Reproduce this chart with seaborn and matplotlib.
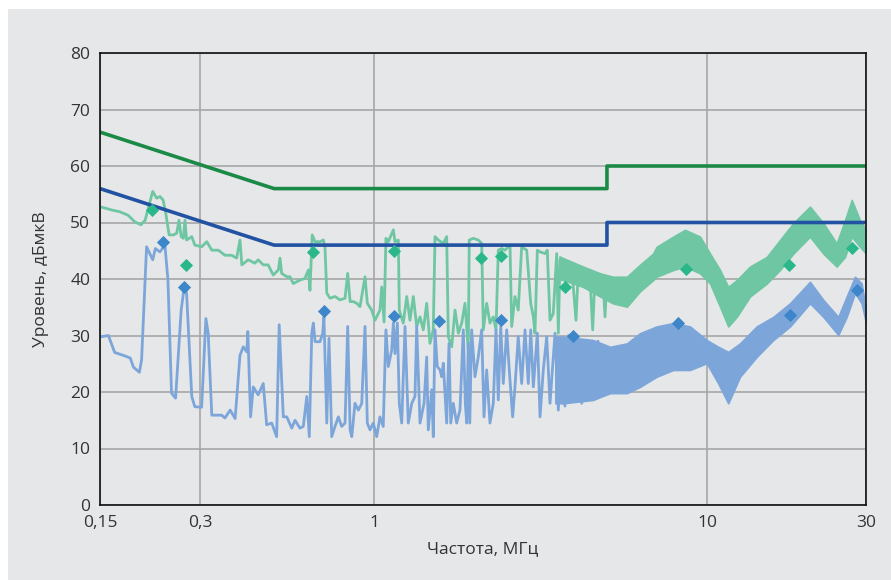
import numpy as np
import pandas as pd
import matplotlib
matplotlib.use("Agg")
import matplotlib.pyplot as plt
import seaborn as sns
from matplotlib.patches import Rectangle
from matplotlib.ticker import FixedLocator, FixedFormatter, LogLocator, NullFormatter

# ---------------- data ----------------
LIMIT_F = [0.15, 0.5, 5.0, 5.0, 30.0]
LIMIT_QP = [66, 56, 56, 60, 60]
LIMIT_AV = [56, 46, 46, 50, 50]

GREEN_TRACE = [
    (0.150, 52.8), (0.163, 52.2), (0.172, 51.9), (0.182, 51.3), (0.191, 50.1), (0.199, 49.6),
    (0.205, 50.4), (0.210, 52.8), (0.216, 55.5), (0.222, 54.3), (0.227, 54.6), (0.232, 54.0),
    (0.236, 51.9), (0.242, 47.8), (0.249, 47.8), (0.255, 48.1), (0.259, 50.4), (0.263, 47.5),
    (0.267, 47.2), (0.270, 50.4), (0.273, 46.9), (0.283, 47.5), (0.289, 46.0), (0.303, 45.7),
    (0.314, 46.6), (0.325, 45.1), (0.340, 45.1), (0.356, 44.2), (0.373, 44.2), (0.386, 43.7),
    (0.395, 46.9), (0.400, 42.5), (0.418, 43.4), (0.438, 42.8), (0.448, 43.4), (0.464, 42.5),
    (0.480, 42.5), (0.497, 40.7), (0.515, 41.6), (0.521, 43.7), (0.527, 41.0), (0.546, 40.4),
    (0.558, 40.4), (0.571, 39.2), (0.598, 39.8), (0.619, 40.1), (0.634, 41.6), (0.641, 38.0),
    (0.651, 47.8), (0.664, 46.6), (0.687, 46.6), (0.703, 46.9), (0.711, 45.7), (0.720, 37.5),
    (0.736, 36.6), (0.762, 36.9), (0.789, 36.3), (0.817, 36.6), (0.832, 41.0), (0.846, 36.0),
    (0.865, 36.0), (0.886, 35.7), (0.906, 35.1), (0.938, 40.4), (0.953, 35.7), (0.982, 34.5),
    (1.005, 32.7), (1.040, 34.5), (1.053, 38.6), (1.070, 32.4), (1.084, 47.2), (1.102, 46.6),
    (1.141, 48.7), (1.154, 46.6), (1.181, 46.9), (1.189, 34.5), (1.222, 32.2), (1.252, 36.9),
    (1.280, 32.7), (1.310, 36.9), (1.341, 31.6), (1.372, 33.3), (1.404, 31.0), (1.437, 35.7),
    (1.470, 28.6), (1.504, 31.0), (1.522, 47.5), (1.557, 46.9), (1.612, 46.3), (1.650, 47.5),
    (1.669, 29.8), (1.708, 28.0), (1.748, 34.5), (1.789, 30.4), (1.831, 32.2), (1.873, 35.7),
    (1.916, 27.4), (1.929, 46.9), (1.983, 47.2), (2.053, 46.9), (2.102, 46.3), (2.126, 31.0),
    (2.176, 35.7), (2.226, 32.2), (2.278, 33.3), (2.321, 31.0), (2.358, 45.1), (2.414, 45.4),
    (2.470, 45.1), (2.557, 46.0), (2.587, 31.6), (2.646, 36.9), (2.707, 34.5), (2.772, 45.7),
    (2.870, 45.1), (2.951, 35.7), (3.005, 33.3), (3.039, 30.4), (3.089, 45.1), (3.147, 44.8),
    (3.257, 44.5), (3.309, 45.1), (3.372, 32.7), (3.449, 33.9), (3.532, 44.5), (3.572, 30.4),
    (3.614, 43.4), (3.697, 42.8), (3.784, 42.2), (3.917, 42.2), (4.036, 32.7), (4.101, 41.6),
    (4.236, 41.0), (4.446, 40.4), (4.530, 31.0), (4.603, 40.4), (4.765, 39.8), (4.874, 39.2),
    (4.932, 33.3), (4.991, 39.2), (5.110, 38.5),
]

BLUE_TRACE = [
    (0.150, 29.8), (0.152, 29.8), (0.159, 30.0), (0.166, 27.0), (0.178, 26.4), (0.185, 26.0),
    (0.189, 24.4), (0.197, 23.5), (0.200, 25.7), (0.207, 45.7), (0.216, 43.4), (0.220, 45.4),
    (0.227, 44.8), (0.235, 46.0), (0.240, 39.8), (0.246, 19.8), (0.253, 18.9), (0.263, 34.5),
    (0.269, 38.9), (0.273, 37.5), (0.283, 19.2), (0.289, 17.4), (0.303, 17.3), (0.312, 33.0),
    (0.317, 30.4), (0.325, 15.9), (0.348, 15.9), (0.356, 15.4), (0.369, 16.8), (0.382, 15.3),
    (0.395, 26.5), (0.404, 28.0), (0.414, 27.1), (0.417, 30.7), (0.425, 15.6), (0.433, 20.9),
    (0.448, 19.5), (0.464, 21.5), (0.475, 14.2), (0.492, 14.5), (0.509, 12.1), (0.518, 31.9),
    (0.533, 15.6), (0.546, 15.6), (0.565, 13.6), (0.578, 15.0), (0.598, 13.6), (0.612, 13.9),
    (0.627, 19.2), (0.638, 12.1), (0.649, 30.4), (0.656, 32.2), (0.664, 28.9), (0.687, 28.9),
    (0.700, 30.4), (0.706, 33.3), (0.720, 14.5), (0.731, 29.5), (0.745, 12.1), (0.762, 13.9),
    (0.780, 15.6), (0.798, 13.9), (0.817, 14.5), (0.832, 31.6), (0.846, 13.3), (0.856, 12.1),
    (0.875, 18.0), (0.896, 16.8), (0.917, 18.0), (0.938, 31.6), (0.953, 14.5), (0.971, 13.3),
    (0.993, 14.5), (1.017, 12.1), (1.040, 15.6), (1.064, 13.9), (1.084, 31.0), (1.102, 24.5),
    (1.128, 27.4), (1.141, 32.2), (1.154, 26.8), (1.173, 32.2), (1.189, 18.0), (1.209, 14.5),
    (1.237, 31.6), (1.265, 14.5), (1.296, 18.0), (1.325, 19.2), (1.341, 31.6), (1.372, 14.5),
    (1.411, 18.0), (1.437, 26.2), (1.453, 13.3), (1.488, 20.4), (1.504, 12.1), (1.522, 31.0),
    (1.546, 24.5), (1.576, 23.9), (1.594, 22.7), (1.612, 25.1), (1.650, 14.5), (1.677, 28.6),
    (1.697, 14.5), (1.727, 18.0), (1.768, 14.5), (1.809, 16.8), (1.851, 31.0), (1.877, 18.0),
    (1.895, 14.5), (1.916, 28.6), (1.936, 14.5), (1.961, 31.0), (2.007, 22.7), (2.053, 26.2),
    (2.102, 31.0), (2.136, 15.6), (2.176, 23.9), (2.226, 14.5), (2.278, 18.0), (2.321, 31.0),
    (2.358, 18.6), (2.398, 31.6), (2.441, 21.5), (2.499, 31.0), (2.544, 23.9), (2.604, 15.6),
    (2.646, 20.9), (2.707, 29.8), (2.772, 21.5), (2.837, 31.0), (2.902, 21.5), (2.951, 31.0),
    (3.005, 20.9), (3.089, 30.4), (3.147, 15.6), (3.219, 23.9), (3.296, 29.8), (3.372, 18.0),
    (3.491, 30.4), (3.572, 16.8), (3.656, 28.6), (3.740, 17.5), (3.830, 30.0), (3.950, 19.0),
    (4.100, 29.5), (4.200, 18.0), (4.400, 29.0), (4.500, 19.0), (4.700, 29.0), (4.800, 20.0),
]

# dense-oscillation parts of the traces: (freq, upper, lower)
GREEN_BAND = [
    (3.60, 44.0, 40.0), (3.69, 43.7, 39.8), (4.24, 42.2, 38.6), (4.77, 41.0, 36.9),
    (5.21, 40.4, 35.7), (5.74, 40.4, 35.1), (6.28, 42.5, 37.8), (6.88, 44.5, 39.8),
    (7.05, 45.7, 40.4), (7.91, 47.5, 41.6), (8.58, 48.7, 42.2), (9.52, 47.5, 41.0),
    (10.20, 44.5, 39.2), (10.93, 41.6, 35.1), (11.57, 38.6, 31.6), (12.27, 39.8, 33.3),
    (13.45, 42.2, 36.9), (15.10, 43.9, 39.2), (16.55, 46.9, 41.6), (18.15, 49.9, 44.5),
    (20.36, 52.8, 47.5), (22.33, 49.9, 44.5), (24.49, 46.3, 42.2), (25.94, 50.4, 43.9),
    (27.18, 54.0, 47.5), (28.77, 50.4, 45.7), (30.00, 48.7, 44.5),
]
BLUE_BAND = [
    (3.50, 29.8, 18.0), (3.69, 29.8, 18.0), (4.54, 29.2, 18.6), (5.11, 28.0, 19.8),
    (5.74, 28.6, 19.8), (6.28, 30.4, 20.9), (7.05, 31.6, 22.7), (7.91, 32.2, 23.9),
    (8.88, 31.6, 23.9), (9.97, 29.2, 25.1), (10.80, 28.0, 21.5), (11.57, 27.1, 18.0),
    (12.55, 28.6, 22.7), (14.08, 31.6, 26.2), (15.80, 33.3, 29.2), (17.74, 35.7, 31.6),
    (20.36, 39.5, 35.7), (22.33, 36.3, 33.3), (24.76, 33.3, 30.1), (26.25, 36.9, 33.3),
    (27.80, 40.4, 37.5), (29.11, 39.2, 35.7), (30.00, 34.5, 32.2),
]

GREEN_MK_F = [0.215, 0.272, 0.656, 1.146, 2.088, 2.398, 3.75, 8.62, 17.6, 27.2]
GREEN_MK_V = [52.2, 42.4, 44.8, 45.0, 43.7, 44.0, 38.5, 41.7, 42.5, 45.4]
BLUE_MK_F = [0.232, 0.268, 0.705, 1.146, 1.564, 2.398, 3.94, 8.19, 17.7, 28.2]
BLUE_MK_V = [46.5, 38.6, 34.3, 33.5, 32.6, 32.7, 30.0, 32.3, 33.6, 38.0]

X_TICKS = [0.15, 0.3, 1, 10, 30]
X_TICK_LABELS = ["0,15", "0,3", "1", "10", "30"]
Y_TICKS = [0, 10, 20, 30, 40, 50, 60, 70, 80]

# ---------------- style ----------------
BG = "#e6e7e9"
C_QP = "#1b8a47"
C_AV = "#2253a3"
C_GTR = "#6fc6a3"
C_BTR = "#7ca6da"
C_GMK = "#2ab88b"
C_BMK = "#3c86c9"
TXT = "#333333"

sns.set_theme(style="white")
plt.rcParams["font.family"] = ["Open Sans", "DejaVu Sans"]

fig = plt.figure(figsize=(8.91, 5.80), dpi=100, facecolor="white")
fig.add_artist(Rectangle((8 / 891, 0), 1, 1 - 9 / 580, transform=fig.transFigure,
                         facecolor=BG, edgecolor="none", zorder=-5))
ax = fig.add_axes([100 / 891, 1 - 505 / 580, 766 / 891, 452 / 580])
ax.set_facecolor(BG)
ax.set_xscale("log")

g = pd.DataFrame(GREEN_TRACE, columns=["f", "v"])
b = pd.DataFrame(BLUE_TRACE, columns=["f", "v"])
gb = pd.DataFrame(GREEN_BAND, columns=["f", "hi", "lo"])
bb = pd.DataFrame(BLUE_BAND, columns=["f", "hi", "lo"])
lim = pd.DataFrame({"f": LIMIT_F, "qp": LIMIT_QP, "av": LIMIT_AV})

# green trace
ax.fill_between(gb["f"], gb["lo"], gb["hi"], color=C_GTR, lw=1.2, edgecolor=C_GTR, zorder=2)
sns.lineplot(data=g, x="f", y="v", ax=ax, color=C_GTR, lw=2.0, estimator=None, sort=False, zorder=2)
# blue trace
ax.fill_between(bb["f"], bb["lo"], bb["hi"], color=C_BTR, lw=1.2, edgecolor=C_BTR, zorder=3)
sns.lineplot(data=b, x="f", y="v", ax=ax, color=C_BTR, lw=2.0, estimator=None, sort=False, zorder=3)

# limit lines
sns.lineplot(data=lim, x="f", y="qp", ax=ax, color=C_QP, lw=2.6, estimator=None, sort=False, zorder=4)
sns.lineplot(data=lim, x="f", y="av", ax=ax, color=C_AV, lw=2.6, estimator=None, sort=False, zorder=4)

# markers
sns.scatterplot(x=GREEN_MK_F, y=GREEN_MK_V, ax=ax, marker="D", s=45, color=C_GMK, linewidth=0, zorder=5)
sns.scatterplot(x=BLUE_MK_F, y=BLUE_MK_V, ax=ax, marker="D", s=45, color=C_BMK, linewidth=0, zorder=5)

ax.set_xlim(0.15, 30)
ax.set_ylim(0, 80)
ax.xaxis.set_major_locator(FixedLocator(X_TICKS))
ax.xaxis.set_major_formatter(FixedFormatter(X_TICK_LABELS))
ax.xaxis.set_minor_locator(LogLocator(base=10, subs=np.arange(2, 10)))
ax.xaxis.set_minor_formatter(NullFormatter())
ax.set_yticks(Y_TICKS)

ax.grid(True, which="major", color="#a7a7a7", lw=1.2, zorder=1)
ax.set_axisbelow(True)
for sp in ax.spines.values():
    sp.set_visible(True)
    sp.set_color("#111111")
    sp.set_linewidth(1.2)
    sp.set_zorder(6)

ax.tick_params(axis="both", which="both", direction="in", colors="#111111",
               labelcolor=TXT, labelsize=12.5, top=False, right=False)
ax.tick_params(axis="y", which="major", length=6, width=1.6, pad=7)
ax.tick_params(axis="x", which="major", length=5, width=1.4, pad=7)
ax.tick_params(axis="x", which="minor", length=5, width=1.1)

ax.set_xlabel("Частота, МГц", fontsize=12.5, color=TXT)
ax.set_ylabel("Уровень, дБмкВ", fontsize=12.5, color=TXT)
ax.xaxis.set_label_coords(0.5, -0.08)
ax.yaxis.set_label_coords(-0.066, 0.5)

fig.savefig("out.png", dpi=100, facecolor=fig.get_facecolor())
